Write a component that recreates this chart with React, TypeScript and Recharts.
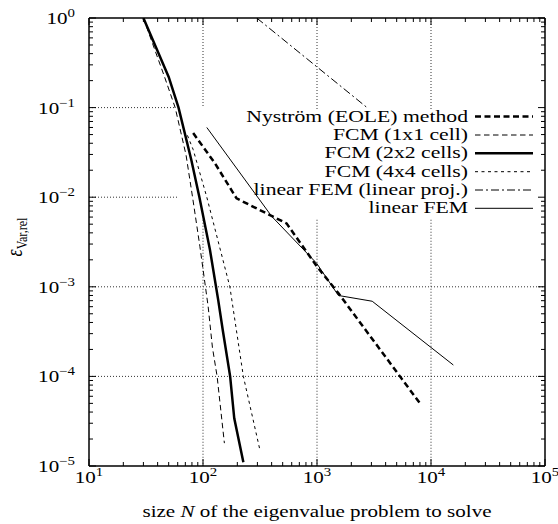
import React from 'react';
import { LineChart, Line, XAxis, YAxis, ReferenceLine } from 'recharts';

const FONT = '"Liberation Serif", "Times New Roman", serif';
const SX = 1.24; // the reference's text is stretched horizontally

// problem size N and relative variance error, one pair of arrays per method
const nNystrom = [82, 127, 197, 541, 993, 1538, 7910];
const eNystrom = [0.052, 0.024, 0.0097, 0.0051, 0.0017, 0.00085, 0.000051];

const nFcm1 = [30, 46, 57, 71, 81, 94, 111, 121, 133, 154];
const eFcm1 = [1.0, 0.22, 0.1, 0.0296, 0.01, 0.0028, 0.0006, 0.00021, 0.0001, 0.000018];

const nFcm2 = [30, 50, 61, 79, 93, 115, 136, 149, 173, 188, 226];
const eFcm2 = [1.0, 0.22, 0.1, 0.026, 0.01, 0.0026, 0.00071, 0.00033, 0.0001, 0.000034, 0.000011];

const nFcm4 = [73, 82, 108, 172, 226, 316];
const eFcm4 = [0.049, 0.034, 0.01, 0.001, 0.0001, 0.000015];

const nProj = [296, 2750];
const eProj = [1.0, 0.1];

const nFem = [108, 401, 993, 1540, 3050, 15700];
const eFem = [0.06, 0.0061, 0.00183, 0.0008, 0.00069, 0.000134];

const decadesX = [10, 100, 1000, 10000, 100000];
const decadesY = [1e-5, 1e-4, 1e-3, 1e-2, 1e-1, 1];
const minorSteps = [1, 2, 3, 4, 5, 6, 7, 8, 9];

const withMinor = (dec: number[]) =>
  dec.flatMap((d, i) => (i < dec.length - 1 ? minorSteps.map(m => d * m) : [d]));
const xTicks = withMinor(decadesX);
const yTicks = withMinor(decadesY);

const pts = (n: number[], e: number[]) => n.map((v, i) => ({ n: v, e: e[i] }));

const series = [
  { name: 'Nyström (EOLE) method', data: pts(nNystrom, eNystrom), width: 2.5, dash: '6 3.5' },
  { name: 'FCM (1x1 cell)', data: pts(nFcm1, eFcm1), width: 1, dash: '5.5 3.5' },
  { name: 'FCM (2x2 cells)', data: pts(nFcm2, eFcm2), width: 2.5, dash: undefined },
  { name: 'FCM (4x4 cells)', data: pts(nFcm4, eFcm4), width: 1, dash: '3 3.5' },
  { name: 'linear FEM (linear proj.)', data: pts(nProj, eProj), width: 1, dash: '8 3 2 3' },
  { name: 'linear FEM', data: pts(nFem, eFem), width: 1, dash: undefined },
];

// dotted grid, broken where the key sits
const gridSegs = [
  [{ x: 100, y: 1 }, { x: 100, y: 0.1 }],
  [{ x: 100, y: 0.0056 }, { x: 100, y: 1e-5 }],
  [{ x: 1000, y: 1 }, { x: 1000, y: 0.095 }],
  [{ x: 1000, y: 0.0056 }, { x: 1000, y: 1e-5 }],
  [{ x: 10000, y: 1 }, { x: 10000, y: 0.095 }],
  [{ x: 10000, y: 0.0056 }, { x: 10000, y: 1e-5 }],
  [{ x: 10, y: 0.1 }, { x: 58, y: 0.1 }],
  [{ x: 10, y: 0.01 }, { x: 60, y: 0.01 }],
  [{ x: 10, y: 1e-3 }, { x: 1e5, y: 1e-3 }],
  [{ x: 10, y: 1e-4 }, { x: 1e5, y: 1e-4 }],
];

const isMajor = (v: number) => Math.abs(Math.log10(v) - Math.round(Math.log10(v))) < 1e-9;
const expText = (v: number) => {
  const e = Math.round(Math.log10(v));
  return (e < 0 ? '\u2212' : '') + Math.abs(e);
};

const BottomTick = (p: any) => {
  const { x, y, payload } = p;
  const major = isMajor(payload.value);
  return (
    <g>
      <line x1={x} x2={x} y1={y} y2={y - (major ? 7 : 4)} stroke="#000" />
      {major && (
        <text transform={`translate(${x},${y + 17}) scale(${SX},1)`} textAnchor="middle"
          fontFamily={FONT} fontSize={17} fill="#000">
          10<tspan dy={-7} fontSize={12}>{expText(payload.value)}</tspan>
        </text>
      )}
    </g>
  );
};

const TopTick = (p: any) => {
  const { x, y, payload } = p;
  const major = isMajor(payload.value);
  return <line x1={x} x2={x} y1={y} y2={y + (major ? 7 : 4)} stroke="#000" />;
};

const LeftTick = (p: any) => {
  const { x, y, payload } = p;
  const major = isMajor(payload.value);
  return (
    <g>
      <line x1={x} x2={x + (major ? 7 : 4)} y1={y} y2={y} stroke="#000" />
      {major && (
        <text transform={`translate(${x - 14},${y + 6}) scale(${SX},1)`} textAnchor="end"
          fontFamily={FONT} fontSize={17} fill="#000">
          10<tspan dy={-7} fontSize={12}>{expText(payload.value)}</tspan>
        </text>
      )}
    </g>
  );
};

const RightTick = (p: any) => {
  const { x, y, payload } = p;
  const major = isMajor(payload.value);
  return <line x1={x} x2={x - (major ? 7 : 4)} y1={y} y2={y} stroke="#000" />;
};

const legendBase = [121.5, 140, 158.3, 176.7, 195, 213.3];

export default function App() {
  const axisLine = { stroke: '#000', strokeWidth: 1.5 };
  return (
    <div style={{ position: 'absolute', left: 0, top: 0, width: 558, height: 524, background: '#fff' }}>
      <LineChart width={558} height={524} margin={{ top: 17, right: 12, bottom: 57, left: 88 }}>
        <XAxis dataKey="n" type="number" scale="log" domain={[10, 100000]} allowDataOverflow
          ticks={xTicks} interval={0} tick={BottomTick} tickLine={false} tickSize={0} tickMargin={0}
          height={1} axisLine={axisLine} />
        <XAxis xAxisId="top" orientation="top" dataKey="n" type="number" scale="log" domain={[10, 100000]}
          allowDataOverflow ticks={xTicks} interval={0} tick={TopTick} tickLine={false} tickSize={0}
          tickMargin={0} height={1} axisLine={axisLine} />
        <YAxis type="number" scale="log" domain={[1e-5, 1]} allowDataOverflow ticks={yTicks} interval={0}
          tick={LeftTick} tickLine={false} tickSize={0} tickMargin={0} width={1} axisLine={axisLine} />
        <YAxis yAxisId="right" orientation="right" type="number" scale="log" domain={[1e-5, 1]}
          allowDataOverflow ticks={yTicks} interval={0} tick={RightTick} tickLine={false} tickSize={0}
          tickMargin={0} width={1} axisLine={axisLine} />
        {gridSegs.map((s, i) => (
          <ReferenceLine key={i} segment={s} stroke="#333" strokeWidth={1} strokeDasharray="1 2" />
        ))}
        {series.map(s => (
          <Line key={s.name} data={s.data} dataKey="e" type="linear" stroke="#000" strokeWidth={s.width}
            strokeDasharray={s.dash} dot={false} activeDot={false} isAnimationActive={false} />
        ))}
      </LineChart>
      <svg width={558} height={524} style={{ position: 'absolute', left: 0, top: 0, pointerEvents: 'none' }}>
        {series.map((s, i) => (
          <g key={s.name}>
            <text transform={`translate(468,${legendBase[i]}) scale(${SX},1)`} textAnchor="end"
              fontFamily={FONT} fontSize={17.5} fill="#000">{s.name}</text>
            <line x1={475} x2={533} y1={legendBase[i] - 5} y2={legendBase[i] - 5} stroke="#000"
              strokeWidth={s.width} strokeDasharray={s.dash} />
          </g>
        ))}
        <text transform={`translate(317,517) scale(${SX},1)`} textAnchor="middle" fontFamily={FONT}
          fontSize={17} fill="#000">
          size <tspan fontStyle="italic">N</tspan> of the eigenvalue problem to solve
        </text>
        <text transform={`translate(22,237) scale(${SX},1) rotate(-90)`} textAnchor="middle" fontFamily={FONT}
          fontSize={18} fill="#000">
          <tspan fontStyle="italic">ε</tspan><tspan dy={4} fontSize={12}>Var,rel</tspan>
        </text>
      </svg>
    </div>
  );
}
